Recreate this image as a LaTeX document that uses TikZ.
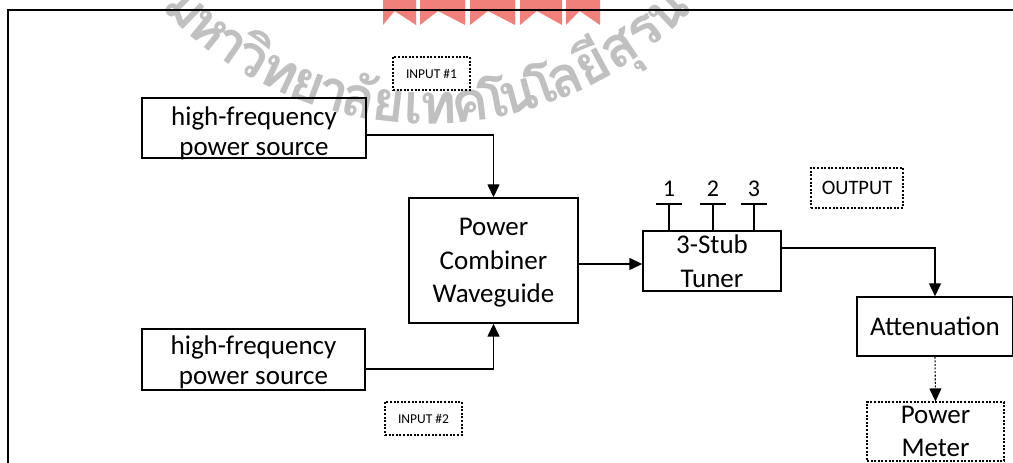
\documentclass[tikz,border=0pt]{standalone}
\usepackage{fontspec}
\setmainfont{Carlito}
\newfontfamily\thaifont[Script=Thai]{Loma}
\usetikzlibrary{arrows.meta}
\definecolor{wmgray}{RGB}{192,192,192}
\definecolor{logored}{RGB}{236,85,78}
\begin{document}
\begin{tikzpicture}[x=1pt,y=1pt,
  blk/.style={draw, line width=1.4pt, inner sep=0pt},
  dotbox/.style={draw, line width=1.1pt, dash pattern=on 2pt off 1.6pt, inner sep=0pt},
  txt/.style={inner sep=0pt, align=center, font=\fontsize{27}{30}\selectfont},
  txtb/.style={inner sep=0pt, align=center, font=\fontsize{27}{33.5}\selectfont},
  small/.style={font=\fontsize{13.5}{15}\selectfont},
  mid/.style={font=\fontsize{20.5}{22}\selectfont},
  num/.style={inner sep=0pt, anchor=base, font=\fontsize{24}{26}\selectfont},
  conn/.style={line width=1.4pt, -{Triangle[length=13pt,width=12pt]}},
  stubline/.style={line width=1.4pt},
  wm/.style={inner sep=0pt, anchor=base, text=wmgray, font=\thaifont\bfseries\fontsize{56}{60}\selectfont},
]
\useasboundingbox (0,0) rectangle (1013,463);
% watermark
\begin{scope}
\clip (0,0) rectangle (1013,463);
\foreach \a/\b/\c in {383/416/0.35, 420/465/0.4, 470/515/0.4, 520/562/0.4, 566/600/0.4}{
  \fill[logored, opacity=0.75] (\a,463) -- (\a,438) -- ({\a+(\b-\a)*\c},452) -- (\b,438) -- (\b,463) -- cycle;
}
\coordinate (wc) at (428,703);
\foreach \g/\c [count=\i] in {ม/-0.5, ห/0.5, า/1.35, วิ/2.2, ท/3.2, ย/4.2, า/5.05, ลั/5.9, ย/6.9, เ/7.7, ท/8.5, ค/9.5, โ/10.3, น/11.1, โ/11.9, ล/12.7, ยี/13.7, สุ/14.7, ร/15.7, น/16.7, า/17.55, รี/18.4}{
  \pgfmathsetmacro\ang{-129.2+(\c-0.5)*5.12}
  \node[wm, rotate=\ang+90] (wm\i) at ([shift={(\ang:364)}]wc) {\g};
}
\end{scope}
% frame
\draw[line width=2pt] (7.5,0) -- (7.5,452.5) -- (1013,452.5);
% blocks
\node[blk, minimum width=224, minimum height=60] (src1) at (254,335) {};
\node[txt] (src1t) at ([yshift=-5pt]src1.center) {high-frequency\\power source};
\node[blk, minimum width=223, minimum height=61] (src2) at (253.5,103.5) {};
\node[txt] (src2t) at ([yshift=-2.5pt]src2.center) {high-frequency\\power source};
\node[blk, minimum width=169, minimum height=125] (comb) at (493.5,202.5) {};
\node[txtb] (combt) at ([yshift=-2.5pt]comb.center) {Power\\Combiner\\Waveguide};
\node[blk, minimum width=138, minimum height=60] (tuner) at (712,202) {};
\node[txt, font=\fontsize{27}{34}\selectfont] (tunert) at (tuner.center) {3-Stub\\Tuner};
\node[blk, minimum width=156, minimum height=59] (att) at (935,136.5) {};
\node[txt] (attt) at (att.center) {Attenuation};
\node[dotbox, minimum width=137, minimum height=59] (pm) at (935.5,31.5) {};
\node[txt, font=\fontsize{27}{33}\selectfont] (pmt) at (pm.center) {Power\\Meter};
\node[dotbox, small, minimum width=77, minimum height=33] (in1) at (431.5,389.5) {INPUT \#1};
\node[dotbox, small, minimum width=77, minimum height=33] (in2) at (423.5,44.5) {INPUT \#2};
\node[dotbox, mid, minimum width=92, minimum height=40] (out) at (857,275) {OUTPUT};
% stubs
\foreach \x/\n in {669/1, 713/2, 754/3}{
  \draw[stubline] (tuner.north -| \x,0) -- (\x,259) (\x-13,259) -- (\x+13,259);
  \node[num] (s\n) at (\x,266) {\n};
}
% connectors
\draw[conn] ([yshift=-7pt]src1.east) -| (comb.north);
\draw[conn] ([yshift=-9.5pt]src2.east) -| (comb.south);
\draw[conn] ([yshift=-3.5pt]comb.east) coordinate (c1) -- (c1 -| tuner.west);
\draw[conn] ([yshift=13pt]tuner.east) -| (att.north);
\draw[conn, line width=1.1pt, dash pattern=on 2pt off 1.6pt] (att.south) -- (pm.north);
\end{tikzpicture}
\end{document}
